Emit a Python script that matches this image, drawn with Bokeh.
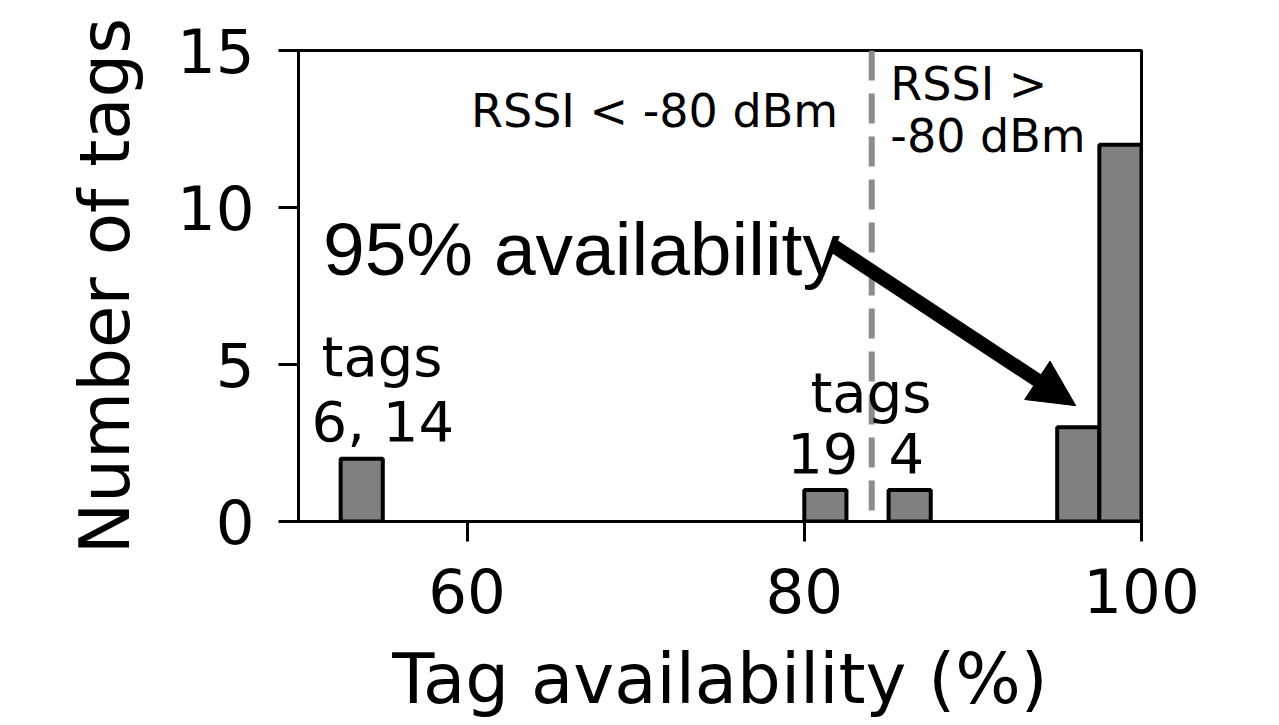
from bokeh.plotting import figure
from bokeh.models import Span, Arrow, NormalHead, Label, FixedTicker, Range1d
from bokeh.embed import file_html
from bokeh.resources import INLINE

# ---- data ----
bin_left = [52.5, 80.0, 85.0, 95.0, 97.5]
bin_right = [55.0, 82.5, 87.5, 97.5, 100.0]
counts = [2, 1, 1, 3, 12]
x_ticks = [60, 80, 100]
y_ticks = [0, 5, 10, 15]
threshold = 84
x_label = "Tag availability (%)"
y_label = "Number of tags"

FONT = "DejaVu Sans"

p = figure(width=1263, height=725,
           x_range=Range1d(50, 100), y_range=Range1d(0, 15),
           output_backend="svg", toolbar_location=None,
           min_border_left=298, min_border_right=122,
           min_border_top=50, min_border_bottom=204)

p.background_fill_color = "white"
p.border_fill_color = "white"
p.grid.visible = False
p.outline_line_color = "black"
p.outline_line_width = 3
p.outline_line_alpha = 1.0

p.quad(left=bin_left, right=bin_right, bottom=0, top=counts,
       fill_color="#808080", line_color="black", line_width=4)

p.add_layout(Span(location=threshold, dimension="height",
                  line_color="#8c8c8c", line_dash="30 13", line_width=6))

for ax in (p.xaxis[0], p.yaxis[0]):
    ax.axis_line_width = 3
    ax.axis_line_color = "black"
    ax.major_tick_line_width = 3
    ax.major_tick_line_color = "black"
    ax.major_tick_out = 20
    ax.major_tick_in = 0
    ax.minor_tick_line_color = None
    ax.major_label_text_font = FONT
    ax.major_label_text_font_size = "61px"
    ax.major_label_text_color = "black"
    ax.axis_label_text_font = FONT
    ax.axis_label_text_font_size = "69px"
    ax.axis_label_text_font_style = "normal"
    ax.axis_label_text_color = "black"

p.xaxis.ticker = FixedTicker(ticks=x_ticks)
p.yaxis.ticker = FixedTicker(ticks=y_ticks)
p.xaxis.axis_label = x_label
p.yaxis.axis_label = y_label
p.xaxis.major_label_standoff = 26
p.yaxis.major_label_standoff = 24
p.xaxis.axis_label_standoff = 23
p.yaxis.axis_label_standoff = 29

def lab(x, y, text, size, align="center", font=FONT):
    p.add_layout(Label(x=x, y=y, text=text, text_font=font,
                       text_font_size=size, text_align=align,
                       text_baseline="alphabetic", text_color="black"))

lab(82.0, 13.08, "RSSI < -80 dBm", "46px", align="right")
lab(85.1, 13.94, "RSSI >", "46px", align="left")
lab(85.1, 12.28, "-80 dBm", "46px", align="left")
lab(54.95, 5.24, "tags", "56px")
lab(55.0, 3.17, "6, 14", "56px")
lab(83.95, 4.12, "tags", "56px")
lab(81.1, 2.18, "19", "56px")
lab(86.05, 2.18, "4", "56px")
lab(51.45, 8.68, "95% availability", "75px", align="left", font="Liberation Sans")

p.add_layout(Arrow(end=NormalHead(size=46, fill_color="black", line_color="black"),
                   x_start=81.7, y_start=8.79, x_end=96.1, y_end=3.69,
                   line_width=14, line_color="black"))

open("out.html", "w").write(file_html(p, INLINE))
